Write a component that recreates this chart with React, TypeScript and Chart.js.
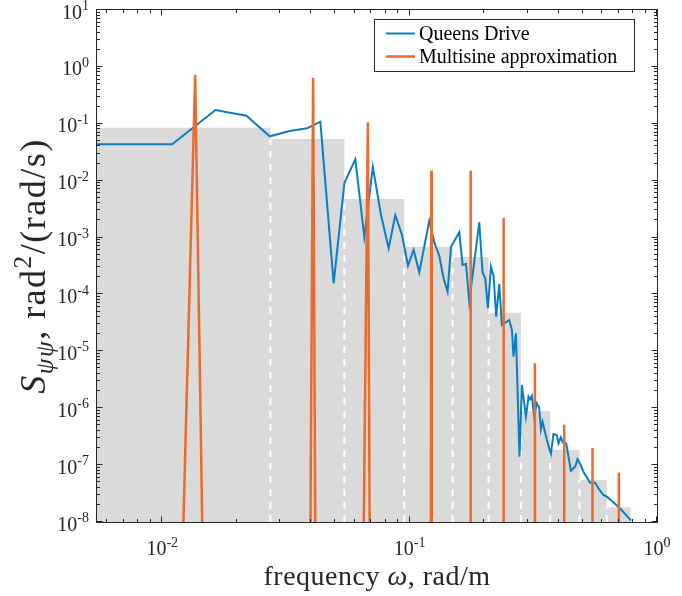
import React, { useEffect, useRef } from 'react';
import { Chart, registerables } from 'chart.js';

Chart.register(...registerables);

// ---------- axis ranges & ticks ----------
const X_MIN = 0.00545;
const X_MAX = 1;
const Y_MIN = 1e-8;
const Y_MAX = 10;
const xTickValues = [0.01, 0.1, 1];
const xTickExps = ['-2', '-1', '0'];
const yTickValues = [1e-8, 1e-7, 1e-6, 1e-5, 1e-4, 1e-3, 1e-2, 1e-1, 1, 10];
const yTickExps = ['-8', '-7', '-6', '-5', '-4', '-3', '-2', '-1', '0', '1'];
const TICK_BASE = '10';

// ---------- series labels ----------
const seriesLabels = ['Queens Drive', 'Multisine approximation'];

// ---------- Queens Drive PSD ----------
const qdFreq = [0.00545, 0.01097, 0.01642, 0.0219, 0.0272, 0.03276, 0.03851, 0.04357, 0.04931, 0.0545,
  0.06035, 0.06561, 0.07101, 0.07664, 0.08227, 0.08754, 0.09317, 0.09851, 0.1038, 0.1094,
  0.1201, 0.1259, 0.1318, 0.1372, 0.1424, 0.147, 0.1588, 0.1637, 0.169, 0.1742,
  0.1912, 0.1972, 0.2021, 0.2073, 0.2132, 0.2184, 0.2239, 0.2303, 0.2361, 0.2435,
  0.2527, 0.2592, 0.263, 0.269, 0.2781, 0.2844, 0.2953, 0.3025, 0.3073, 0.3121,
  0.3188, 0.3269, 0.334, 0.3394, 0.3445, 0.3589, 0.3666, 0.3724, 0.3815, 0.3938,
  0.3997, 0.4088, 0.4165, 0.4295, 0.4487, 0.467, 0.4771, 0.4891, 0.5077, 0.537,
  0.5623, 0.5854, 0.6075, 0.6268, 0.6631, 0.7142, 0.7859];
const qdPsd = [0.0436, 0.0436, 0.1747, 0.1387, 0.06025, 0.07463, 0.08324, 0.1088, 1.57e-4, 0.0091,
  0.02384, 0.001023, 0.01739, 0.002491, 6.475e-4, 0.002491, 0.001109, 3.2e-4, 6.04e-4, 2.45e-4,
  0.001978, 8.12e-4, 4.8e-4, 1.923e-4, 1.118e-4, 6.91e-4, 0.001237, 3.294e-4, 3.43e-4, 7.46e-5,
  0.001854, 2.45e-4, 1.923e-4, 5.71e-5, 3.075e-4, 2.136e-4, 4.063e-5, 1.527e-4, 2.904e-5, 3.187e-5,
  3.556e-5, 2.372e-5, 8.045e-6, 2.075e-5, 1.406e-7, 2.56e-6, 7.1e-7, 1.595e-6, 1.436e-6, 1.64e-6,
  7.1e-7, 1.221e-6, 1.038e-6, 4.262e-7, 5.8e-7, 2.763e-7, 1.975e-7, 1.568e-7, 3.524e-7, 3.384e-7,
  2.417e-7, 3.083e-7, 2.477e-7, 2.417e-7, 7.98e-8, 9.38e-8, 1.265e-7, 1.046e-7, 7.18e-8, 4.91e-8,
  4.91e-8, 3.653e-8, 2.983e-8, 2.784e-8, 2.275e-8, 1.673e-8, 1.054e-8];

// ---------- Multisine spikes ----------
const spikeFreq = [0.01359, 0.04073, 0.06781, 0.1224, 0.1763, 0.2397, 0.3209, 0.4214, 0.5483, 0.7009];
const spikePeak = [0.73, 0.645, 0.106, 0.015, 0.015, 0.00221, 6.15e-6, 5.14e-7, 2.0e-7, 7.4e-8];
const spikeBaseLeft = [0.01218, 0.03975, 0.06528, 0.1219, 0.1758, 0.2392, 0.3204, 0.4209, 0.5478, 0.7004];
const spikeBaseRight = [0.01451, 0.04155, 0.06893, 0.1229, 0.1768, 0.2402, 0.3214, 0.4219, 0.5488, 0.7014];

// ---------- band levels (gray blocks) ----------
const bandEdges = [0.005, 0.02737, 0.0545, 0.09519, 0.1492, 0.2085, 0.2818, 0.3701, 0.4861, 0.6268, 0.7839];
const bandLevels = [0.0853, 0.054, 0.00476, 6.9e-4, 4.55e-4, 4.77e-5, 8.9e-7, 1.84e-7, 5.47e-8, 1.81e-8];

// ---------- styles ----------
const BLUE = '#0a7ec4';
const ORANGE = '#ec6a2c';
const GRAY = '#dadada';
const AXIS = '#262626';
const FONT = '"Liberation Serif", "Times New Roman", serif';

type Run = { t: string; s: number; dy: number; it?: boolean };

function drawRuns(ctx: CanvasRenderingContext2D, runs: Run[], F: number, align: 'center' | 'left' | 'right', spacing = 0) {
  (ctx as any).letterSpacing = `${spacing}px`;
  const widths = runs.map((r) => {
    ctx.font = `${r.it ? 'italic ' : ''}${F * r.s}px ${FONT}`;
    return ctx.measureText(r.t).width;
  });
  const total = widths.reduce((a, b) => a + b, 0);
  let x = align === 'center' ? -total / 2 : align === 'right' ? -total : 0;
  runs.forEach((r, i) => {
    ctx.font = `${r.it ? 'italic ' : ''}${F * r.s}px ${FONT}`;
    ctx.fillText(r.t, x, r.dy * F);
    x += widths[i];
  });
  (ctx as any).letterSpacing = '0px';
}

const decorPlugin = {
  id: 'decor',
  afterDraw(chart: any) {
    const { ctx, chartArea: a, scales } = chart;
    const xs = scales.x;
    const ys = scales.y;
    ctx.save();
    ctx.strokeStyle = AXIS;
    ctx.lineWidth = 1;
    ctx.strokeRect(a.left - 0.5, a.top - 0.5, a.right - a.left + 1, a.bottom - a.top + 1);

    const marks = (min: number, max: number) => {
      const out: { v: number; major: boolean }[] = [];
      for (let e = Math.floor(Math.log10(min)); e <= Math.ceil(Math.log10(max)); e++) {
        for (let k = 1; k <= 9; k++) {
          const v = k * Math.pow(10, e);
          if (v >= min * 0.9999 && v <= max * 1.0001) out.push({ v, major: k === 1 });
        }
      }
      return out;
    };
    ctx.beginPath();
    marks(X_MIN, X_MAX).forEach(({ v, major }) => {
      const px = Math.round(xs.getPixelForValue(v)) - 0.5;
      const len = major ? 5.5 : 3;
      ctx.moveTo(px, a.bottom);
      ctx.lineTo(px, a.bottom - len);
      ctx.moveTo(px, a.top);
      ctx.lineTo(px, a.top + len);
    });
    marks(Y_MIN, Y_MAX).forEach(({ v, major }) => {
      const py = Math.round(ys.getPixelForValue(v)) - 0.5;
      const len = major ? 5.5 : 3;
      ctx.moveTo(a.left, py);
      ctx.lineTo(a.left + len, py);
      ctx.moveTo(a.right, py);
      ctx.lineTo(a.right - len, py);
    });
    ctx.stroke();

    // tick labels (10 with superscript exponent)
    ctx.fillStyle = AXIS;
    ctx.textBaseline = 'alphabetic';
    ctx.textAlign = 'left';
    const TF = 20;
    xTickValues.forEach((v, i) => {
      ctx.save();
      ctx.translate(xs.getPixelForValue(v), 555);
      drawRuns(ctx, [
        { t: TICK_BASE, s: 1, dy: 0 },
        { t: xTickExps[i], s: 0.7, dy: -0.42 },
      ], TF, 'center');
      ctx.restore();
    });
    yTickValues.forEach((v, i) => {
      ctx.save();
      ctx.translate(89, ys.getPixelForValue(v) + 8.5);
      drawRuns(ctx, [
        { t: TICK_BASE, s: 1, dy: 0 },
        { t: yTickExps[i], s: 0.7, dy: -0.42 },
      ], TF, 'right');
      ctx.restore();
    });

    // axis titles
    ctx.save();
    ctx.translate((a.left + a.right) / 2, 585);
    drawRuns(ctx, [
      { t: 'frequency ', s: 1, dy: 0 },
      { t: 'ω', s: 1, dy: 0, it: true },
      { t: ', rad/m', s: 1, dy: 0 },
    ], 28, 'center', 0.5);
    ctx.restore();

    ctx.save();
    ctx.translate(45, (a.top + a.bottom) / 2);
    ctx.rotate(-Math.PI / 2);
    drawRuns(ctx, [
      { t: 'S', s: 1, dy: 0, it: true },
      { t: 'ψψ', s: 0.7, dy: 0.22, it: true },
      { t: ', rad', s: 1, dy: 0 },
      { t: '2', s: 0.7, dy: -0.4 },
      { t: '/(rad/s)', s: 1, dy: 0 },
    ], 36, 'center', 1.5);
    ctx.restore();

    // legend
    const lx = 374.5, ly = 19.5, lw = 260, lh = 52;
    ctx.fillStyle = '#ffffff';
    ctx.fillRect(lx, ly, lw, lh);
    ctx.strokeStyle = AXIS;
    ctx.lineWidth = 1;
    ctx.strokeRect(lx, ly, lw, lh);
    const rows = [{ c: BLUE, y: 33.5, w: 2 }, { c: ORANGE, y: 56.5, w: 2.5 }];
    rows.forEach((r, i) => {
      ctx.strokeStyle = r.c;
      ctx.lineWidth = r.w;
      ctx.beginPath();
      ctx.moveTo(386, r.y);
      ctx.lineTo(415, r.y);
      ctx.stroke();
      ctx.fillStyle = '#000000';
      ctx.font = `20px ${FONT}`;
      ctx.textBaseline = 'middle';
      ctx.fillText(seriesLabels[i], 419, r.y + 1);
    });
    ctx.restore();
  },
};

export default function App() {
  const ref = useRef<HTMLCanvasElement | null>(null);

  useEffect(() => {
    if (!ref.current) return;

    const qdData = qdFreq.map((f, i) => ({ x: f, y: qdPsd[i] }));

    const spikeData: { x: number; y: number | null }[] = [];
    spikeFreq.forEach((f, i) => {
      spikeData.push({ x: spikeBaseLeft[i], y: Y_MIN });
      spikeData.push({ x: f, y: spikePeak[i] });
      spikeData.push({ x: spikeBaseRight[i], y: Y_MIN });
      spikeData.push({ x: spikeBaseRight[i], y: null });
    });

    const bandData = bandLevels.map((h, i) => ({ x: bandEdges[i], y: h }));
    bandData.push({ x: bandEdges[bandEdges.length - 1], y: bandLevels[bandLevels.length - 1] });

    const dashData: { x: number; y: number | null }[] = [];
    for (let i = 1; i < bandLevels.length; i++) {
      dashData.push({ x: bandEdges[i], y: Y_MIN });
      dashData.push({ x: bandEdges[i], y: Math.min(bandLevels[i - 1], bandLevels[i]) });
      dashData.push({ x: bandEdges[i], y: null });
    }

    const chart = new Chart(ref.current, {
      type: 'line',
      data: {
        datasets: [
          {
            label: seriesLabels[1],
            data: spikeData as any,
            borderColor: ORANGE,
            borderWidth: 2.5,
            pointRadius: 0,
            borderJoinStyle: 'bevel',
            spanGaps: false,
            tension: 0,
            order: 0,
          },
          {
            label: seriesLabels[0],
            data: qdData,
            borderColor: BLUE,
            borderWidth: 2,
            pointRadius: 0,
            tension: 0,
            order: 1,
          },
          {
            label: 'band edges',
            data: dashData as any,
            borderColor: '#ffffff',
            borderWidth: 2,
            borderDash: [7, 6],
            pointRadius: 0,
            spanGaps: false,
            order: 2,
          },
          {
            label: 'band levels',
            data: bandData,
            stepped: 'before',
            borderWidth: 0,
            borderColor: 'rgba(0,0,0,0)',
            backgroundColor: GRAY,
            fill: 'start',
            pointRadius: 0,
            order: 3,
          },
        ],
      },
      options: {
        animation: false,
        responsive: true,
        maintainAspectRatio: false,
        layout: { padding: { top: 10, right: 25, left: 0, bottom: 0 } },
        plugins: { legend: { display: false }, tooltip: { enabled: false } },
        scales: {
          x: {
            type: 'logarithmic',
            min: X_MIN,
            max: X_MAX,
            grid: { display: false, drawTicks: false },
            border: { display: false },
            afterBuildTicks: (s: any) => {
              s.ticks = xTickValues.map((v) => ({ value: v }));
            },
            afterFit: (s: any) => {
              s.height = 74;
            },
            ticks: { display: false },
          },
          y: {
            type: 'logarithmic',
            min: Y_MIN,
            max: Y_MAX,
            grid: { display: false, drawTicks: false },
            border: { display: false },
            afterBuildTicks: (s: any) => {
              s.ticks = yTickValues.map((v) => ({ value: v }));
            },
            afterFit: (s: any) => {
              s.width = 97;
            },
            ticks: { display: false },
          },
        },
      },
      plugins: [decorPlugin],
    });

    return () => chart.destroy();
  }, []);

  return (
    <div style={{ position: 'absolute', left: 0, top: 0, width: 682, height: 596, background: '#fff' }}>
      <canvas ref={ref} />
    </div>
  );
}
